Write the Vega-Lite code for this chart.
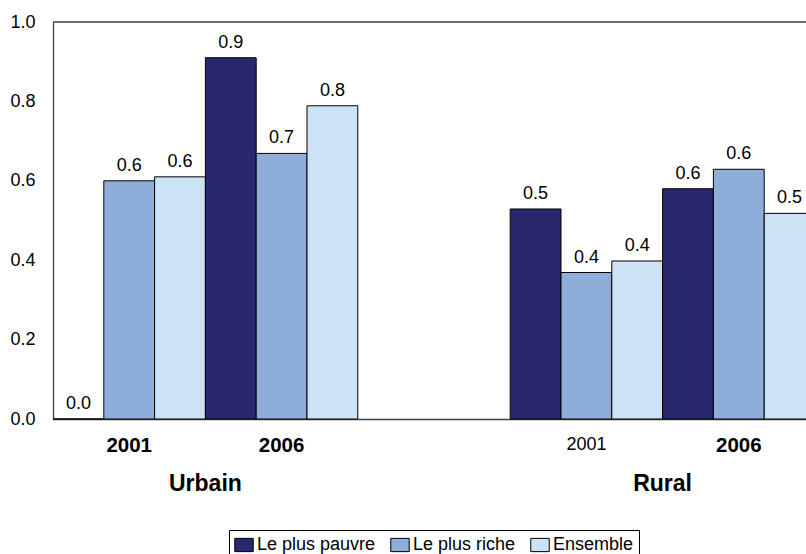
{
  "$schema": "https://vega.github.io/schema/vega-lite/v6.json",
  "autosize": "none",
  "padding": {"left": 53, "top": 22, "right": 0, "bottom": 135},
  "width": 753,
  "height": 397,
  "config": {
    "view": {"stroke": null},
    "font": "Liberation Sans",
    "text": {"font": "Liberation Sans"}
  },
  "datasets": {
    "main": [
      {"cat": "U2001", "serie": "Le plus pauvre", "value": 0.0},
      {"cat": "U2001", "serie": "Le plus riche", "value": 0.600},
      {"cat": "U2001", "serie": "Ensemble", "value": 0.610},
      {"cat": "U2006", "serie": "Le plus pauvre", "value": 0.910},
      {"cat": "U2006", "serie": "Le plus riche", "value": 0.669},
      {"cat": "U2006", "serie": "Ensemble", "value": 0.789},
      {"cat": "R2001", "serie": "Le plus pauvre", "value": 0.529},
      {"cat": "R2001", "serie": "Le plus riche", "value": 0.369},
      {"cat": "R2001", "serie": "Ensemble", "value": 0.398},
      {"cat": "R2006", "serie": "Le plus pauvre", "value": 0.580},
      {"cat": "R2006", "serie": "Le plus riche", "value": 0.629},
      {"cat": "R2006", "serie": "Ensemble", "value": 0.518}
    ],
    "zones": [
      {"cat": "U2006", "zone": "Urbain"},
      {"cat": "R2006", "zone": "Rural"}
    ]
  },
  "layer": [
    {
      "data": {"name": "main"},
      "mark": {"type": "bar", "stroke": "black", "strokeWidth": 1},
      "encoding": {
        "x": {
          "field": "cat",
          "type": "nominal",
          "scale": {
            "domain": ["U2001", "U2006", "gap", "R2001", "R2006"],
            "range": [0, 762],
            "paddingInner": 0,
            "paddingOuter": 0
          },
          "axis": {
            "title": null,
            "labelAngle": 0,
            "tickSize": 0,
            "ticks": false,
            "labelPadding": 16,
            "labelExpr": "datum.value == 'gap' ? '' : substring(datum.value, 1)",
            "labelFontSize": {"condition": {"test": "datum.value == 'R2001'", "value": 18}, "value": 20.5},
            "labelFontWeight": {"condition": {"test": "datum.value == 'R2001'", "value": "normal"}, "value": "bold"},
            "labelColor": "black",
            "labelFont": "Liberation Sans",
            "domainColor": "#404040",
            "domainWidth": 1.3
          }
        },
        "y": {
          "field": "value",
          "type": "quantitative",
          "scale": {"domain": [0, 1], "nice": false},
          "axis": {
            "title": null,
            "values": [0, 0.2, 0.4, 0.6, 0.8, 1.0],
            "format": ".1f",
            "grid": false,
            "ticks": false,
            "tickSize": 0,
            "labelPadding": 18,
            "labelFontSize": 18,
            "labelColor": "black",
            "labelFont": "Liberation Sans",
            "domainColor": "#404040",
            "domainWidth": 1.3
          }
        },
        "xOffset": {
          "field": "serie",
          "type": "nominal",
          "scale": {"domain": ["Le plus pauvre", "Le plus riche", "Ensemble"], "paddingInner": 0, "paddingOuter": 0}
        },
        "color": {
          "field": "serie",
          "type": "nominal",
          "scale": {
            "domain": ["Le plus pauvre", "Le plus riche", "Ensemble"],
            "range": ["#28286e", "#8eaed9", "#cce3f5"]
          },
          "legend": {
            "title": null,
            "orient": "none",
            "legendX": 176,
            "legendY": 508,
            "direction": "horizontal",
            "strokeColor": "black",
            "fillColor": "white",
            "padding": 5,
            "labelFontSize": 18,
            "labelFont": "Liberation Sans",
            "labelColor": "black",
            "labelOffset": 3,
            "columnPadding": 12,
            "symbolType": "M-1,-0.72H1V0.72H-1Z",
            "symbolSize": 340,
            "symbolStrokeColor": "black",
            "symbolStrokeWidth": 1,
            "symbolOpacity": 1
          }
        }
      }
    },
    {
      "data": {"name": "main"},
      "mark": {"type": "text", "baseline": "alphabetic", "align": "center", "dy": -10, "fontSize": 18, "color": "black"},
      "encoding": {
        "x": {"field": "cat", "type": "nominal"},
        "y": {"field": "value", "type": "quantitative"},
        "xOffset": {"field": "serie", "type": "nominal"},
        "text": {"field": "value", "type": "quantitative", "format": ".1f"}
      }
    },
    {
      "data": {"name": "zones"},
      "mark": {"type": "text", "baseline": "alphabetic", "align": "center", "fontSize": 23, "fontWeight": "bold", "color": "black", "clip": false},
      "encoding": {
        "x": {"field": "cat", "type": "nominal", "bandPosition": 0},
        "y": {"datum": -0.181, "type": "quantitative"},
        "text": {"field": "zone", "type": "nominal"}
      }
    },
    {
      "data": {"values": [{}]},
      "mark": {"type": "rule", "color": "#404040", "strokeWidth": 1.3},
      "encoding": {
        "y": {"datum": 1}
      }
    }
  ]
}
